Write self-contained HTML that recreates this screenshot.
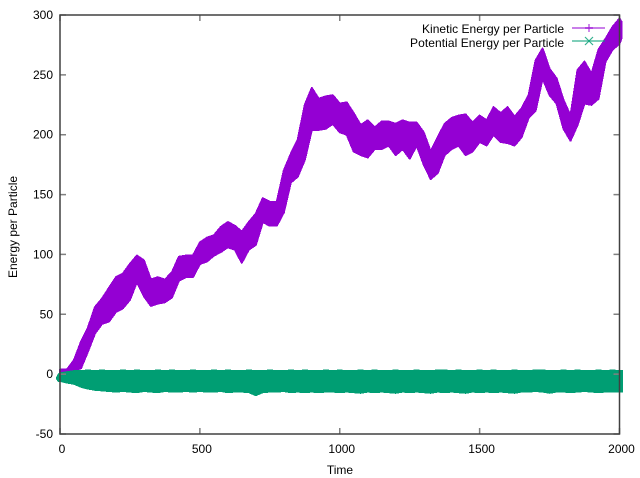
<!DOCTYPE html>
<html>
<head>
<meta charset="utf-8">
<title>Energy per Particle</title>
<style>
html,body{margin:0;padding:0;background:#fff;width:640px;height:478px;overflow:hidden}
svg{display:block}
text{font-family:"Liberation Sans",sans-serif;font-size:12px;fill:#000}
</style>
</head>
<body>
<svg id="chart" xmlns="http://www.w3.org/2000/svg" width="640" height="478" viewBox="0 0 640 478">
  <rect x="0" y="0" width="640" height="478" fill="#fff"/>
  <g id="series"></g>
  <g id="ticks"></g>
  <rect x="60" y="15" width="559.5" height="419" fill="none" stroke="#404040" stroke-width="1.5"/>
  <g id="labels"></g>
  <text x="340" y="474" text-anchor="middle">Time</text>
  <text transform="translate(17,227) rotate(-90)" text-anchor="middle">Energy per Particle</text>
  <g>
    <text x="564" y="33" text-anchor="end" textLength="142" lengthAdjust="spacing">Kinetic Energy per Particle</text>
    <line x1="572" y1="28" x2="605" y2="28" stroke="#9400d3" stroke-opacity="0.5" stroke-width="2"/>
    <path d="M585 28H593M589 24V32" stroke="#9400d3" stroke-opacity="0.7" stroke-width="1.3" fill="none"/>
    <text x="564" y="47" text-anchor="end" textLength="154" lengthAdjust="spacing">Potential Energy per Particle</text>
    <line x1="572" y1="41" x2="605" y2="41" stroke="#009e73" stroke-opacity="0.5" stroke-width="2"/>
    <path d="M585 37L593 45M585 45L593 37" stroke="#009e73" stroke-opacity="0.8" stroke-width="1.2" fill="none"/>
  </g>
</svg>
<script>
var kineticTime = [0,25,50,75,100,125,150,175,200,225,250,275,300,325,350,375,400,425,450,475,500,525,550,575,600,625,650,675,700,725,750,775,800,825,850,875,900,925,950,975,1000,1025,1050,1075,1100,1125,1150,1175,1200,1225,1250,1275,1300,1325,1350,1375,1400,1425,1450,1475,1500,1525,1550,1575,1600,1625,1650,1675,1700,1725,1750,1775,1800,1825,1850,1875,1900,1925,1950,1975,2000,2008];
var kineticUpper = [3.9,3.9,11.7,27,39,56,63,72,81,84,92,99,95,79,81,79,85,98,99,99,110,114,116,123,127,124,119,127,134,147,144,144,170,184,196,225,239,230,232,233,226,227,218,208,212,206,211,211,209,212,210,210,202,186,198,209,214,216,217,210,216,212,223,218,223,215,222,233,262,272,255,247,229,216,254,261,251,271,280,290,297,294];
var kineticLower = [-1,-1,3,5,19,34,42,44,52,55,62,77,65,57,59,60,64,78,81,81,92,94,99,102,106,104,93,104,108,127,124,124,135,160,165,179,204,204,205,209,202,200,186,183,181,188,188,191,183,188,180,191,175,163,168,183,188,191,183,186,194,191,200,194,193,191,198,214,220,247,233,226,205,195,208,226,225,230,261,271,276,281];
var potentialTime = [-13,-6,0,25,50,75,100,125,150,175,200,225,250,275,300,325,350,375,400,425,450,475,500,525,550,575,600,625,650,675,700,725,750,775,800,825,850,875,900,925,950,975,1000,1025,1050,1075,1100,1125,1150,1175,1200,1225,1250,1275,1300,1325,1350,1375,1400,1425,1450,1475,1500,1525,1550,1575,1600,1625,1650,1675,1700,1725,1750,1775,1800,1825,1850,1875,1900,1925,1950,1975,2000,2010];
var potentialUpper = [-3,0,1,2,3,3,3.5,3,3.5,3,3,3.5,3,3.5,3,3,3.5,3,3.5,3,3,3.5,3,3,3.5,3,3.5,3,3,3.5,3,3,3.5,3,3,3.5,3,3.5,3,3,3.5,3,3.5,3,3,3.5,3,3.5,3,3,3.5,3,3,3.5,3,3,3.5,3.5,3,3.5,3,3,3.5,3,3.5,3,3,3.5,3,3,3.5,3.5,3,3,3.5,3,3.5,3,3,3.5,3,3.5,3,3];
var potentialLower = [-4,-6,-6,-7.5,-8.5,-11,-12.5,-13.5,-14,-14.5,-15,-14.5,-15,-15.5,-14.5,-15,-15.5,-14.5,-15,-15,-14.5,-15,-14.5,-15,-15,-14.5,-15.5,-15,-15,-15.5,-18,-15.5,-15,-15,-14.5,-15.5,-15,-15.5,-15,-15.5,-15,-15,-15.5,-15,-15.5,-16,-15,-15.5,-15,-15.5,-16,-15,-15.5,-15,-15.5,-16,-15,-15.5,-15,-15.5,-16,-15,-15.5,-15,-15.5,-15,-15.5,-16,-15,-15,-14.5,-15,-16,-15,-15,-15.5,-15,-14.5,-15,-15.5,-15,-15,-15,-15];
var xTicks = [0,500,1000,1500,2000];
var yTicks = [-50,0,50,100,150,200,250,300];

var NS = 'http://www.w3.org/2000/svg';
function xScale(t){ return 60 + (t - 0) * 559.5 / 2000; }
function yScale(v){ return 434 - (v + 50) * 419 / 350; }

function bandPath(times, upper, lower){
  var d = '';
  for (var i = 0; i < times.length; i++) {
    d += (i ? 'L' : 'M') + xScale(times[i]).toFixed(1) + ' ' + yScale(upper[i]).toFixed(1);
  }
  for (var j = times.length - 1; j >= 0; j--) {
    d += 'L' + xScale(times[j]).toFixed(1) + ' ' + yScale(lower[j]).toFixed(1);
  }
  return d + 'Z';
}

var seriesLayer = document.getElementById('series');

var kineticBand = document.createElementNS(NS, 'path');


kineticBand.setAttribute('d', bandPath(kineticTime, kineticUpper, kineticLower));
kineticBand.setAttribute('fill', '#9400d3');
kineticBand.setAttribute('stroke', '#9400d3');
kineticBand.setAttribute('stroke-width', '2');
kineticBand.setAttribute('stroke-linejoin', 'round');
kineticBand.setAttribute('shape-rendering', 'crispEdges');
seriesLayer.appendChild(kineticBand);

var potentialBand = document.createElementNS(NS, 'path');


potentialBand.setAttribute('d', bandPath(potentialTime, potentialUpper, potentialLower));
potentialBand.setAttribute('fill', '#009e73');
potentialBand.setAttribute('stroke', '#009e73');
potentialBand.setAttribute('stroke-width', '1');
potentialBand.setAttribute('shape-rendering', 'crispEdges');
seriesLayer.appendChild(potentialBand);

var tickLayer = document.getElementById('ticks');
var labelLayer = document.getElementById('labels');

xTicks.forEach(function(t){
  var x = xScale(t);
  var tickMarks = document.createElementNS(NS, 'path');
  
  
  tickMarks.setAttribute('d', 'M' + x + ' 434V428M' + x + ' 15V21');
  tickMarks.setAttribute('stroke', '#808080');
  tickMarks.setAttribute('stroke-width', '1.5');
  tickLayer.appendChild(tickMarks);
  var label = document.createElementNS(NS, 'text');
  
  
  label.setAttribute('x', x + 2);
  label.setAttribute('y', 453);
  label.setAttribute('text-anchor', 'middle');
  label.textContent = String(t);
  labelLayer.appendChild(label);
});

yTicks.forEach(function(v){
  var y = yScale(v);
  var tickMarks = document.createElementNS(NS, 'path');
  
  
  tickMarks.setAttribute('d', 'M60 ' + y + 'H66M619.5 ' + y + 'H613.5');
  tickMarks.setAttribute('stroke', '#808080');
  tickMarks.setAttribute('stroke-width', '1.5');
  tickLayer.appendChild(tickMarks);
  var label = document.createElementNS(NS, 'text');
  
  
  label.setAttribute('x', 53);
  label.setAttribute('y', y + 4);
  label.setAttribute('text-anchor', 'end');
  label.textContent = String(v);
  labelLayer.appendChild(label);
});
</script>
</body>
</html>
